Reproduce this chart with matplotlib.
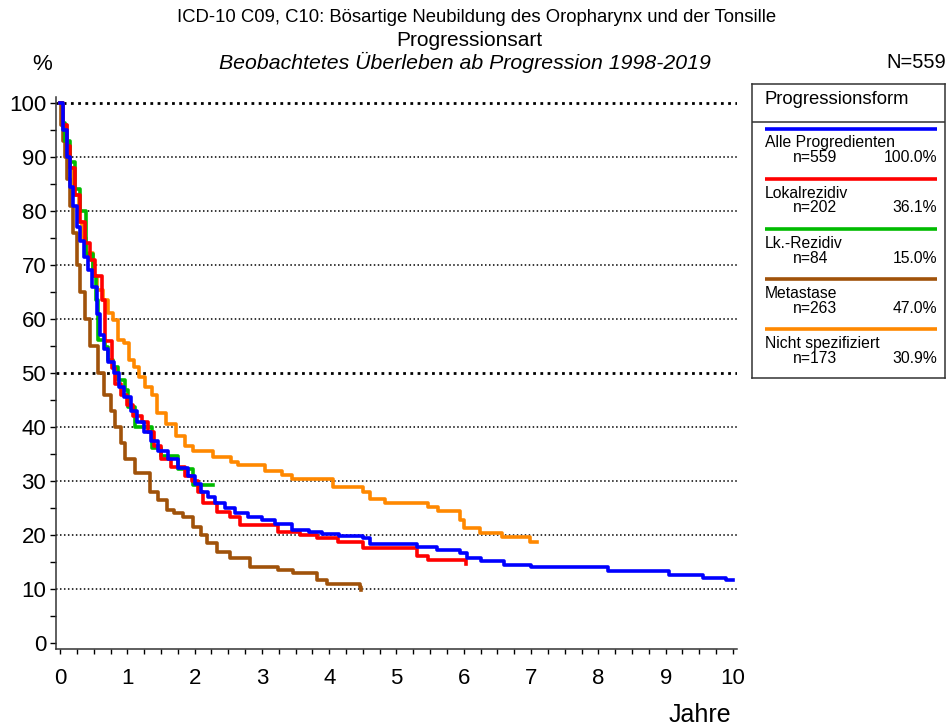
import matplotlib
matplotlib.use("Agg")
from matplotlib import pyplot as plt
from matplotlib.ticker import MultipleLocator

plt.rcParams["font.family"] = ["Liberation Sans", "DejaVu Sans"]

# Kaplan-Meier steps (years, percent surviving)
t_alle = [0, 0.05, 0.1, 0.15, 0.2, 0.25, 0.3, 0.35, 0.42, 0.48, 0.55, 0.6, 0.65, 0.72, 0.8,
          0.88, 0.95, 1.05, 1.15, 1.25, 1.35, 1.45, 1.6, 1.75, 1.9, 2.0, 2.1, 2.2, 2.3, 2.45,
          2.6, 2.8, 3.0, 3.2, 3.45, 3.7, 3.9, 4.15, 4.5, 4.6, 5.3, 5.6, 5.95, 6.05, 6.25,
          6.6, 7.0, 8.15, 9.05, 9.55, 9.9, 10.0]
s_alle = [100, 95, 90, 84.5, 81, 77, 74.5, 71.5, 69, 66, 61, 57, 54.5, 52, 50,
          47.5, 45.5, 43, 41, 39, 37.5, 35.5, 34, 32.5, 31, 29.5, 28, 27, 26, 25,
          24, 23.3, 22.8, 22, 21, 20.6, 20.2, 19.8, 19.4, 18.4, 17.8, 17.2, 16.6, 15.8, 15.2,
          14.5, 14.0, 13.3, 12.6, 12.0, 11.6, 11.6]

t_lokal = [0, 0.05, 0.1, 0.15, 0.22, 0.3, 0.37, 0.45, 0.52, 0.62, 0.67, 0.77, 0.82, 0.9, 1.0,
           1.08, 1.22, 1.3, 1.4, 1.5, 1.65, 1.85, 1.96, 2.05, 2.13, 2.33, 2.53, 2.67, 3.24,
           3.57, 3.82, 4.13, 4.5, 5.3, 5.47, 6.03, 6.04]
s_lokal = [100, 96, 92, 88, 83, 78, 74, 71, 68, 63.5, 56, 51, 48, 46, 44,
           42, 41, 39, 36.5, 34, 32.6, 31, 30, 28, 26, 24.2, 23.3, 21.8, 20.6,
           20, 19.4, 18.7, 17.6, 16.1, 15.4, 14.6, 14.6]

t_lk = [0, 0.04, 0.08, 0.15, 0.22, 0.3, 0.38, 0.49, 0.53, 0.57, 0.67, 0.71, 0.79, 0.86,
        0.96, 1.01, 1.11, 1.37, 1.5, 1.75, 1.97, 2.27]
s_lk = [100, 96.3, 93, 89, 84, 80, 72, 68, 63.5, 56.1, 54.8, 52.4, 51.1, 48.7,
        46.9, 43.7, 40.0, 36.2, 34.6, 32.2, 29.3, 29.3]

t_meta = [0, 0.02, 0.04, 0.07, 0.1, 0.15, 0.2, 0.25, 0.3, 0.37, 0.45, 0.56, 0.65, 0.75,
          0.82, 0.9, 0.97, 1.11, 1.34, 1.45, 1.59, 1.7, 1.83, 1.98, 2.1, 2.18, 2.33, 2.53,
          2.82, 3.24, 3.46, 3.82, 3.97, 4.46, 4.47]
s_meta = [100, 96, 93, 90, 86, 81, 76, 70, 65, 60, 55, 50, 46, 43,
          40, 37, 34, 31.4, 28, 26.5, 24.6, 24, 23.3, 21.5, 20, 18.5, 16.9, 15.7,
          14.1, 13.5, 13.0, 11.7, 10.9, 10.4, 9.8]

t_nicht = [0, 0.05, 0.1, 0.15, 0.2, 0.28, 0.33, 0.38, 0.49, 0.55, 0.64, 0.71, 0.79, 0.86,
           0.95, 1.03, 1.1, 1.18, 1.26, 1.36, 1.44, 1.57, 1.72, 1.86, 1.97, 2.28, 2.54,
           2.65, 3.05, 3.3, 3.45, 4.06, 4.5, 4.6, 4.83, 5.47, 5.62, 5.94, 6.0, 6.24, 6.57,
           6.98, 7.09]
s_nicht = [100, 96, 92, 88, 83, 78, 75, 72.2, 68, 65.4, 63.5, 61.1, 59.8, 56.1,
           55.6, 52.4, 51.1, 49.3, 47.4, 45.9, 42.6, 40.5, 38.3, 36.5, 35.6, 34.4, 33.5,
           33.0, 31.9, 31.1, 30.4, 28.9, 28.0, 26.7, 25.9, 25.2, 24.4, 22.8, 21.3, 20.4, 19.6,
           18.7, 18.7]

names = ["Alle Progredienten", "Lokalrezidiv", "Lk.-Rezidiv", "Metastase", "Nicht spezifiziert"]
counts = ["n=559", "n=202", "n=84", "n=263", "n=173"]
shares = ["100.0%", "36.1%", "15.0%", "47.0%", "30.9%"]
colors = ["#0000ff", "#ff0000", "#00bb00", "#a0520a", "#ff8800"]
times = [t_alle, t_lokal, t_lk, t_meta, t_nicht]
surv = [s_alle, s_lokal, s_lk, s_meta, s_nicht]

W, H = 948, 728
fig = plt.figure(figsize=(W / 100, H / 100), dpi=100)

# main axes, placed in pixel terms
x0, x1, ytop, ybot = 56, 737, 97, 649
ax = fig.add_axes([x0 / W, 1 - ybot / H, (x1 - x0) / W, (ybot - ytop) / H])
ax.set_xlim(-0.06, 10.06)
ax.set_ylim(-1.1, 101.1)

for y in range(10, 101, 10):
    lw = 2.0 if y in (50, 100) else 1.1
    ax.axhline(y, color="black", lw=lw, ls=(0, (1, 1.6)), zorder=1)

# draw in reverse so blue ends up on top like the original
order = [4, 3, 2, 1, 0]
for i in order:
    ax.step(times[i], surv[i], where="post", color=colors[i], lw=2.6, zorder=3)

for side in ("top", "right"):
    ax.spines[side].set_visible(False)
for side in ("left", "bottom"):
    ax.spines[side].set_linewidth(1.1)
    ax.spines[side].set_color("#333333")

ax.xaxis.set_major_locator(MultipleLocator(1))
ax.xaxis.set_minor_locator(MultipleLocator(0.25))
ax.yaxis.set_major_locator(MultipleLocator(10))
ax.yaxis.set_minor_locator(MultipleLocator(5))
ax.tick_params(axis="x", which="both", direction="out", length=3.5, width=1, pad=10, labelsize=16)
ax.tick_params(axis="y", which="both", direction="out", length=4, width=1, pad=3, labelsize=16)

# titles
fig.text(477 / W, 1 - 18 / H, "ICD-10 C09, C10: Bösartige Neubildung des Oropharynx und der Tonsille",
         ha="center", va="center", fontsize=13.3)
fig.text(469 / W, 1 - 40 / H, "Progressionsart", ha="center", va="center", fontsize=15)
fig.text(465 / W, 1 - 62 / H, "Beobachtetes Überleben ab Progression 1998-2019",
         ha="center", va="center", fontsize=15.3, style="italic")
fig.text(42 / W, 1 - 64 / H, "%", ha="center", va="center", fontsize=16)
fig.text(946 / W, 1 - 62 / H, "N=559", ha="right", va="center", fontsize=14.5)
fig.text(700 / W, 1 - 715 / H, "Jahre", ha="center", va="center", fontsize=18)

# legend box drawn by hand
lx0, lx1, ly0, ly1 = 752, 945, 84, 378
lg = fig.add_axes([lx0 / W, 1 - ly1 / H, (lx1 - lx0) / W, (ly1 - ly0) / H])
lg.set_xlim(lx0, lx1)
lg.set_ylim(ly1, ly0)
lg.set_xticks([])
lg.set_yticks([])
for s in lg.spines.values():
    s.set_linewidth(1.1)
    s.set_color("#333333")
lg.axhline(122, color="#333333", lw=1.1)
lg.text(765, 99, "Progressionsform", ha="left", va="center", fontsize=13.3)
for k in range(5):
    yl = 129 + 50 * k
    lg.plot([765, 937], [yl, yl], color=colors[k], lw=2.6, solid_capstyle="butt")
    lg.text(765, yl + 14, names[k], ha="left", va="center", fontsize=11.3)
    lg.text(793, yl + 29, counts[k], ha="left", va="center", fontsize=11.3)
    lg.text(937, yl + 29, shares[k], ha="right", va="center", fontsize=11.3)

fig.savefig("out.png", dpi=100)
